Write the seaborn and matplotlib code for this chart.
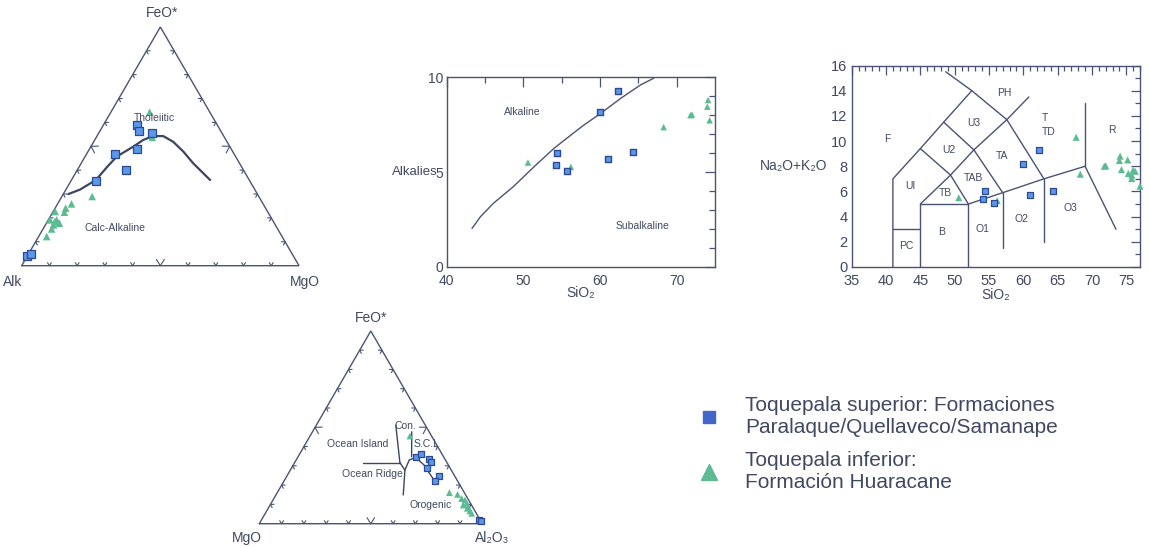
import numpy as np
import pandas as pd
import matplotlib
matplotlib.use("Agg")
import matplotlib.pyplot as plt
import seaborn as sns
from matplotlib.lines import Line2D
from matplotlib.ticker import MultipleLocator, FixedLocator

# ---------------- DATA ----------------
# AFM ternary: Alk / FeO* / MgO (%)
afm_sup_alk = [29.1, 29.3, 25.2, 42.9, 34.0, 42.4, 55.6, 96.0, 94.2]
afm_sup_fe  = [58.9, 56.6, 55.4, 47.0, 48.7, 40.1, 35.4, 4.0, 4.8]
afm_sup_mg  = [12.0, 14.1, 19.4, 10.1, 17.3, 17.5, 9.0, 0.0, 1.0]
afm_inf_alk = [21.7, 26.0, 60.1, 69.1, 72.1, 73.4, 76.6, 80.2, 78.8, 77.5, 81.5, 80.0, 77.8, 84.9]
afm_inf_fe  = [64.3, 53.8, 29.0, 25.9, 24.1, 22.4, 22.7, 19.2, 18.5, 17.8, 15.4, 17.1, 19.2, 12.2]
afm_inf_mg  = [14.0, 20.2, 10.9, 5.0, 3.8, 4.2, 0.7, 0.6, 2.7, 4.7, 3.1, 2.9, 3.0, 2.9]
# Tholeiitic / calc-alkaline boundary
afm_line_alk = [68.2, 63.0, 55.3, 48.6, 42.9, 34.8, 29.8, 25.4, 21.8, 19.4, 17.8, 16.7, 14.1]
afm_line_fe  = [30.0, 31.9, 35.9, 41.3, 45.7, 49.9, 52.7, 54.3, 54.3, 51.9, 47.8, 42.9, 35.9]
afm_line_mg  = [1.8, 5.1, 8.8, 10.1, 11.4, 15.3, 17.5, 20.3, 23.9, 28.7, 34.4, 40.4, 50.0]

# SiO2 vs total alkalies (shared by the two binary diagrams)
sup_sio2 = [62.3, 60.0, 54.4, 54.2, 55.7, 61.0, 64.3]
sup_alk  = [9.26, 8.16, 6.02, 5.38, 5.07, 5.71, 6.03]
inf_sio2 = [50.6, 56.2, 67.7, 68.3, 71.8, 72.0, 74.1, 74.0, 75.2, 74.3, 75.3, 75.8, 76.0, 76.3, 75.8, 77.0]
inf_alk  = [5.50, 5.27, 10.3, 7.37, 8.00, 8.03, 8.80, 8.45, 8.50, 7.73, 7.43, 7.30, 7.70, 7.60, 7.03, 6.42]
# Irvine & Baragar alkaline / subalkaline line
ib_sio2 = [43.3, 44.4, 46.1, 48.7, 51.4, 54.0, 56.2, 57.9, 60.1, 62.7, 65.3, 67.0]
ib_alk  = [2.02, 2.64, 3.35, 4.23, 5.28, 6.25, 6.95, 7.48, 8.10, 8.89, 9.60, 9.95]

# TAS boundaries (SiO2, Na2O+K2O)
tas_lines = [
    ([41, 41, 45, 48.4, 52.5], [0, 7, 9.4, 11.5, 14]),
    ([41, 45], [3, 3]),
    ([45, 45, 52, 52], [0, 5, 5, 0]),
    ([45, 49.4, 52.8, 57.6, 60.8], [5, 7.3, 9.3, 11.7, 13.5]),
    ([45, 49.4, 52], [9.4, 7.3, 5]),
    ([48.4, 52.8, 57], [11.5, 9.3, 5.9]),
    ([48.7, 52.5, 57.6, 63], [15.5, 14, 11.7, 7]),
    ([52, 57, 63, 69], [5, 5.9, 7, 8]),
    ([57, 57], [5.9, 1.5]),
    ([63, 63], [7, 2]),
    ([69, 69], [8, 13]),
    ([69, 73.5], [8, 3]),
]
tas_names = ["F", "UI", "PC", "B", "O1", "O2", "O3", "TB", "TAB", "TA", "U2", "U3", "PH", "T", "TD", "R"]
tas_name_x = [40.2, 43.6, 42.9, 48.1, 54.0, 59.8, 66.9, 48.6, 52.8, 56.9, 49.2, 52.8, 57.3, 63.1, 63.7, 72.9]
tas_name_y = [10.2, 6.4, 1.66, 2.8, 3.0, 3.8, 4.7, 5.85, 7.1, 8.8, 9.3, 11.4, 13.8, 11.8, 10.7, 10.9]

# MgO / FeO* / Al2O3 ternary (%)
mfa_sup_mg = [12.5, 9.3, 6.9, 7.1, 10.6, 6.8, 10.1, 0.8, 0.0]
mfa_sup_fe = [34.8, 36.0, 33.7, 31.8, 28.7, 24.9, 22.3, 1.7, 1.2]
mfa_sup_al = [52.7, 54.7, 59.4, 61.1, 60.7, 68.3, 67.6, 97.5, 98.8]
mfa_inf_mg = [9.7, 6.7, 3.5, 2.7, 1.6, 1.7, 1.9, 2.2, 2.7, 3.7, 2.1]
mfa_inf_fe = [45.5, 16.1, 15.2, 13.1, 12.3, 10.6, 8.8, 6.7, 8.0, 9.7, 5.4]
mfa_inf_al = [44.8, 77.2, 81.3, 84.2, 86.1, 87.7, 89.3, 91.1, 89.3, 86.6, 92.5]
mfa_lines = [  # (MgO, FeO*, Al2O3)
    ([37.8, 21.1], [31.7, 31.7], [30.5, 47.2]),
    ([13.2, 21.1], [51.2, 31.7], [35.6, 47.2]),
    ([21.1, 20.8, 28.0], [31.7, 27.8, 14.9], [47.2, 51.4, 57.1]),
    ([20.8, 16.2, 14.0, 12.1, 10.9, 10.7, 10.4, 9.9],
     [27.8, 33.1, 33.9, 33.1, 30.5, 27.0, 23.6, 21.8],
     [51.4, 50.7, 52.1, 54.8, 58.6, 62.3, 66.0, 68.3]),
    ([7.8, 14.3], [47.7, 34.8], [44.5, 50.9]),
]
mfa_names = ["Con.", "S.C.I.", "Ocean Island", "Ocean Ridge", "Orogenic"]
mfa_name_x = [0.657, 0.751, 0.441, 0.507, 0.770]
mfa_name_y = [0.440, 0.358, 0.358, 0.223, 0.084]

legend_labels = ["Toquepala superior: Formaciones\nParalaque/Quellaveco/Samanape",
                 "Toquepala inferior:\nFormación Huaracane"]

# ---------------- STYLE ----------------
sns.set_theme(style="white")
plt.rcParams["font.family"] = ["Liberation Sans", "DejaVu Sans"]
TXT = "#414862"
LN = "#4a5373"
SQ_FACE, SQ_EDGE = "#5b96e8", "#2c4a94"
TRI = "#5cbb92"

W, H = 1149, 548
fig = plt.figure(figsize=(W / 100, H / 100), dpi=100)
fig.patch.set_facecolor("white")


def rect(l, t, r, b):
    return [l / W, 1 - b / H, (r - l) / W, (b - t) / H]


S3 = np.sqrt(3) / 2


def tern(left, top, right):
    left, top, right = (np.asarray(v, float) for v in (left, top, right))
    tot = left + top + right
    return right / tot + 0.5 * top / tot, S3 * top / tot


def ternary_frame(ax, small, big, lw=1.0):
    V = np.array([[0, 0], [1, 0], [0.5, S3]])
    ax.plot([0, 1, 0.5, 0], [0, 0, S3, 0], color=LN, lw=lw, clip_on=False, solid_joinstyle="miter")
    C = V.mean(axis=0)
    for i in range(3):
        P, Q = V[i], V[(i + 1) % 3]
        d = (Q - P) / np.linalg.norm(Q - P)
        n = np.array([-d[1], d[0]])
        if np.dot(C - P, n) < 0:
            n = -n
        for k in range(1, 10):
            pt = P + k / 10 * (Q - P)
            L = big if k == 5 else small
            for a in (np.radians(32), -np.radians(32)):
                rv = np.array([n[0] * np.cos(a) - n[1] * np.sin(a), n[0] * np.sin(a) + n[1] * np.cos(a)])
                e = pt + L * rv
                ax.plot([pt[0], e[0]], [pt[1], e[1]], color=LN, lw=0.8, clip_on=False)
    ax.set_xlim(0, 1)
    ax.set_ylim(0, S3)
    ax.set_axis_off()


# ---------------- AFM ternary ----------------
ax1 = fig.add_axes(rect(21.7, 27, 299, 265.7))
ternary_frame(ax1, 0.013, 0.027)
lx, ly = tern(afm_line_alk, afm_line_fe, afm_line_mg)
ax1.plot(lx, ly, color="#3d4560", lw=1.6, solid_capstyle="round", solid_joinstyle="round")
x, y = tern(afm_inf_alk, afm_inf_fe, afm_inf_mg)
sns.scatterplot(x=x, y=y, marker="^", s=30, color=TRI, edgecolor="none", ax=ax1, clip_on=False, zorder=3)
x, y = tern(afm_sup_alk, afm_sup_fe, afm_sup_mg)
sns.scatterplot(x=x, y=y, marker="s", s=28, color=SQ_FACE, edgecolor=SQ_EDGE, linewidth=0.9, ax=ax1, clip_on=False, zorder=4)
ax1.text(0.506, 0.916, "FeO*", ha="center", va="center", fontsize=10, color=TXT)
ax1.text(-0.031, -0.058, "Alk", ha="center", va="center", fontsize=10, color=TXT)
ax1.text(1.02, -0.058, "MgO", ha="center", va="center", fontsize=10, color=TXT)
ax1.text(0.477, 0.536, "Tholeiitic", ha="center", va="center", fontsize=7.5, color=TXT)
ax1.text(0.336, 0.137, "Calc-Alkaline", ha="center", va="center", fontsize=7.5, color=TXT)

# ---------------- Alkalies vs SiO2 ----------------
ax2 = fig.add_axes(rect(446.7, 77.3, 715, 266.7))
ax2.plot(ib_sio2, ib_alk, color=LN, lw=1.0)
d_inf = pd.DataFrame({"SiO2": inf_sio2, "alk": inf_alk})
d_sup = pd.DataFrame({"SiO2": sup_sio2, "alk": sup_alk})
d_inf2 = d_inf[(d_inf.SiO2 <= 75) & (d_inf.alk <= 10)]
sns.scatterplot(data=d_inf2, x="SiO2", y="alk", marker="^", s=22, color=TRI, edgecolor="none", ax=ax2, zorder=3)
sns.scatterplot(data=d_sup, x="SiO2", y="alk", marker="s", s=20, color=SQ_FACE, edgecolor=SQ_EDGE, linewidth=1.0, ax=ax2, zorder=4)
ax2.set_xlim(40, 75)
ax2.set_ylim(0, 10)
ax2.xaxis.set_major_locator(FixedLocator([40, 50, 60, 70]))
ax2.xaxis.set_minor_locator(FixedLocator([45, 55, 65]))
ax2.yaxis.set_major_locator(FixedLocator([0, 5, 10]))
ax2.yaxis.set_minor_locator(MultipleLocator(1))
ax2.tick_params(which="both", direction="in", top=True, right=True, color=LN, labelcolor=TXT,
                labelsize=10, width=0.9)
ax2.tick_params(axis="x", which="both", pad=5)
ax2.tick_params(axis="y", which="both", pad=2.5)
ax2.tick_params(which="major", length=7)
ax2.tick_params(which="minor", length=4.5)
ax2.set_xlabel("SiO₂", fontsize=10, color=TXT, labelpad=-1)
ax2.set_ylabel("")
ax2.text(-0.035, 0.5, "Alkalies", transform=ax2.transAxes, ha="right", va="center", fontsize=9.5, color=TXT)
ax2.text(0.28, 0.815, "Alkaline", transform=ax2.transAxes, ha="center", va="center", fontsize=7.5, color=TXT)
ax2.text(0.73, 0.215, "Subalkaline", transform=ax2.transAxes, ha="center", va="center", fontsize=7.5, color=TXT)
for sp in ax2.spines.values():
    sp.set_color(LN)
    sp.set_linewidth(1.0)

# ---------------- TAS ----------------
ax3 = fig.add_axes(rect(851.7, 65.5, 1140, 267))
for xs, ys in tas_lines:
    ax3.plot(xs, ys, color=LN, lw=1.0)
for nm, tx, ty in zip(tas_names, tas_name_x, tas_name_y):
    ax3.text(tx, ty, nm, ha="center", va="center", fontsize=7.5, color=TXT)
sns.scatterplot(data=d_inf, x="SiO2", y="alk", marker="^", s=26, color=TRI, edgecolor="none", ax=ax3, zorder=3, clip_on=False)
sns.scatterplot(data=d_sup, x="SiO2", y="alk", marker="s", s=24, color=SQ_FACE, edgecolor=SQ_EDGE, linewidth=0.9, ax=ax3, zorder=4)
ax3.set_xlim(35, 77)
ax3.set_ylim(0, 16)
ax3.xaxis.set_major_locator(MultipleLocator(5))
ax3.xaxis.set_minor_locator(MultipleLocator(1))
ax3.yaxis.set_major_locator(MultipleLocator(2))
ax3.yaxis.set_minor_locator(MultipleLocator(1))
ax3.tick_params(which="both", direction="in", top=True, right=True, color=LN, labelcolor=TXT,
                labelsize=10.5, width=0.9)
ax3.tick_params(axis="x", which="both", pad=5)
ax3.tick_params(axis="y", which="both", pad=3)
ax3.tick_params(which="major", length=6.5)
ax3.tick_params(which="minor", length=3.5)
ax3.set_xlabel("SiO₂", fontsize=10, color=TXT, labelpad=0)
ax3.set_ylabel("")
ax3.text(-0.085, 0.5, "Na₂O+K₂O", transform=ax3.transAxes, ha="right", va="center", fontsize=10, color=TXT)
for sp in ax3.spines.values():
    sp.set_color(LN)
    sp.set_linewidth(1.0)

# ---------------- MgO-FeO*-Al2O3 ternary ----------------
ax4 = fig.add_axes(rect(259.3, 331, 482.3, 523.7))
ternary_frame(ax4, 0.016, 0.032)
for mg, fe, al in mfa_lines:
    lx, ly = tern(mg, fe, al)
    ax4.plot(lx, ly, color="#3d4560", lw=1.0)
x, y = tern(mfa_inf_mg, mfa_inf_fe, mfa_inf_al)
sns.scatterplot(x=x, y=y, marker="^", s=24, color=TRI, edgecolor="none", ax=ax4, clip_on=False, zorder=3)
x, y = tern(mfa_sup_mg, mfa_sup_fe, mfa_sup_al)
sns.scatterplot(x=x, y=y, marker="s", s=24, color=SQ_FACE, edgecolor=SQ_EDGE, linewidth=0.9, ax=ax4, clip_on=False, zorder=4)
for nm, tx, ty in zip(mfa_names, mfa_name_x, mfa_name_y):
    ax4.text(tx, ty, nm, ha="center", va="center", fontsize=7.5, color=TXT)
ax4.text(0.501, 0.924, "FeO*", ha="center", va="center", fontsize=10, color=TXT)
ax4.text(-0.056, -0.064, "MgO", ha="center", va="center", fontsize=10, color=TXT)
ax4.text(1.042, -0.064, "Al₂O₃", ha="center", va="center", fontsize=10, color=TXT)

# ---------------- Legend ----------------
handles = [Line2D([], [], ls="none", marker="s", markersize=8, color="#4466c8"),
           Line2D([], [], ls="none", marker="^", markersize=12, color=TRI)]
fig.legend(handles, legend_labels, loc="upper left", bbox_to_anchor=(698.6 / W, 1 - 396 / H),
           frameon=False, fontsize=15, handlelength=1.0, handletextpad=1.23, labelspacing=0.69,
           borderpad=0, borderaxespad=0, labelcolor=TXT)

fig.savefig("out.png", dpi=100, facecolor="white")
